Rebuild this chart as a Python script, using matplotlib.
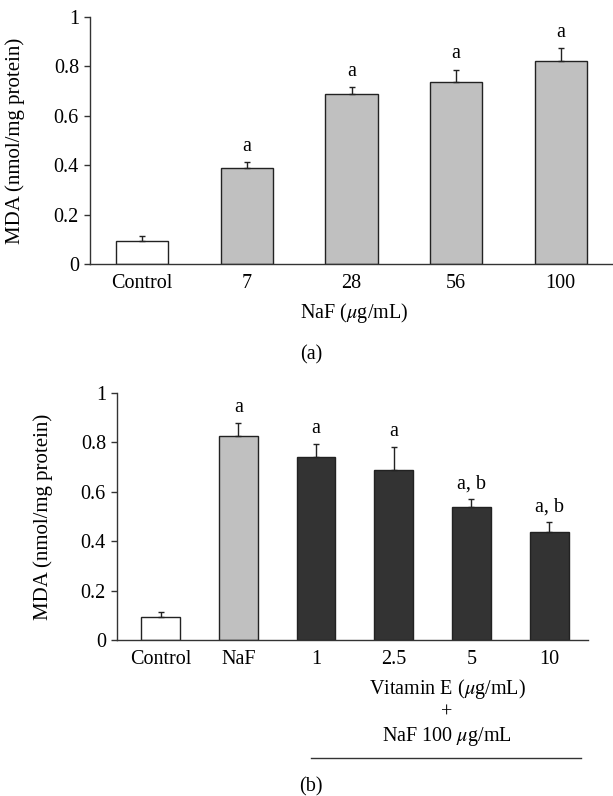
import matplotlib
matplotlib.use("Agg")
import matplotlib.pyplot as plt
import numpy as np

plt.rcParams['font.family'] = ['Liberation Serif', 'DejaVu Serif']
plt.rcParams['mathtext.fontset'] = 'stix'

# Panel (a)
cats_a = ["Control", "7", "28", "56", "100"]
vals_a = [0.094, 0.389, 0.687, 0.735, 0.823]
errs_a = [0.020, 0.023, 0.028, 0.052, 0.051]
sig_a = ["", "a", "a", "a", "a"]
colors_a = ["white", "#c0c0c0", "#c0c0c0", "#c0c0c0", "#c0c0c0"]

# Panel (b)
cats_b = ["Control", "NaF", "1", "2.5", "5", "10"]
vals_b = [0.092, 0.825, 0.741, 0.689, 0.537, 0.436]
errs_b = [0.022, 0.053, 0.051, 0.091, 0.032, 0.040]
sig_b = ["", "a", "a", "a", "a, b", "a, b"]
colors_b = ["white", "#c0c0c0", "#333333", "#333333", "#333333", "#333333"]

yticks = [0, 0.2, 0.4, 0.6, 0.8, 1]
ytick_labels = ["0", "0.2", "0.4", "0.6", "0.8", "1"]

W, H = 613, 796
fig = plt.figure(figsize=(W/100, H/100), dpi=100)

FS = 14.5
EDGE = "#222222"

def style(ax, xlim, label_x_px, ax_left_px, ax_w_px):
    ax.set_xlim(*xlim)
    ax.set_ylim(0, 1)
    ax.set_yticks(yticks)
    ax.set_yticklabels(ytick_labels, fontsize=FS)
    for s in ["top", "right"]:
        ax.spines[s].set_visible(False)
    for s in ["left", "bottom"]:
        ax.spines[s].set_color("#333333")
        ax.spines[s].set_linewidth(1.0)
    ax.tick_params(axis="y", direction="out", length=4, width=1, color="#333333", pad=4)
    ax.tick_params(axis="x", length=0, pad=7, labelsize=FS)
    ax.set_ylabel("MDA (nmol/mg protein)", fontsize=FS + 0.5)
    ax.yaxis.set_label_coords((label_x_px - ax_left_px) / ax_w_px, 0.5)

def draw(ax, cats, vals, errs, sig, colors):
    x = np.arange(len(cats))
    ax.bar(x, vals, width=0.5, color=colors, edgecolor=EDGE, linewidth=1.0, zorder=2)
    ax.errorbar(x, vals, yerr=[np.zeros(len(vals)), errs], fmt="none",
                ecolor=EDGE, elinewidth=1.0, capsize=2.3, capthick=1.0, zorder=3)
    for xi, v, e, s in zip(x, vals, errs, sig):
        if s:
            ax.text(xi, v + e + 0.025, s, ha="center", va="bottom", fontsize=FS)
    ax.set_xticks(x)
    ax.set_xticklabels(cats)

# panel (a) axes: x 90..613, y 17..264
ax1 = fig.add_axes([90/W, 1-264/H, (613-90)/W, (264-17)/H])
draw(ax1, cats_a, vals_a, errs_a, sig_a, colors_a)
style(ax1, (-0.5, 4.5), 25, 90, 613-90)
fig.text(354/W, 1-313/H, "NaF ($\\mu$g/mL)", ha="center", va="center", fontsize=FS)
fig.text(311/W, 1-355/H, "(a)", ha="center", va="center", fontsize=FS)

# panel (b) axes: x 117..588, y 393..640
ax2 = fig.add_axes([117/W, 1-640/H, (588-117)/W, (640-393)/H])
draw(ax2, cats_b, vals_b, errs_b, sig_b, colors_b)
style(ax2, (-0.56, 5.5), 53, 117, 588-117)
fig.text(447/W, 1-689/H, "Vitamin E ($\\mu$g/mL)", ha="center", va="center", fontsize=FS)
fig.text(447/W, 1-713/H, "+", ha="center", va="center", fontsize=FS)
fig.text(447/W, 1-736/H, "NaF 100 $\\mu$g/mL", ha="center", va="center", fontsize=FS)
fig.add_artist(plt.Line2D([311/W, 581/W], [1-758/H, 1-758/H], color="#333333", linewidth=1.0))
fig.text(311/W, 1-787/H, "(b)", ha="center", va="center", fontsize=FS)

fig.savefig("out.png", dpi=100)
